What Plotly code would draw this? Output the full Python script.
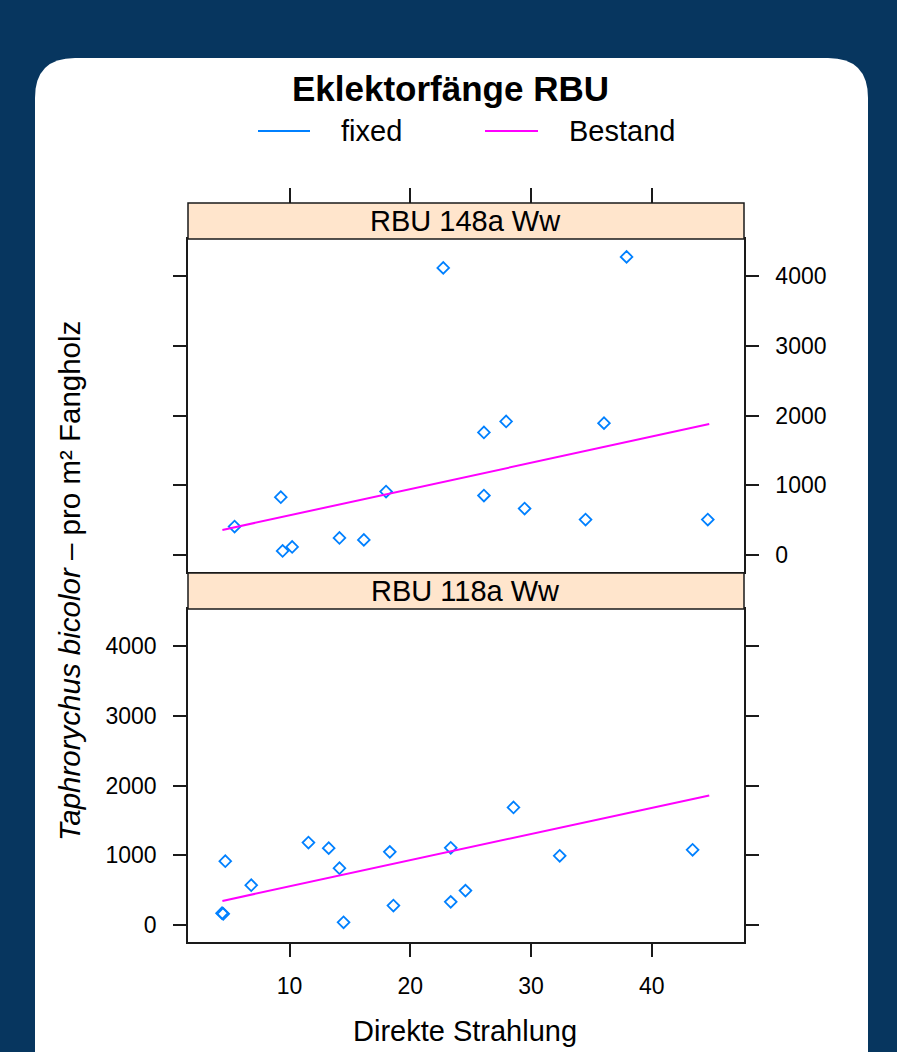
import plotly.graph_objects as go

W, H = 897, 1052

# ---------------- data ----------------
# Panel "RBU 148a Ww" (top)
x_148 = [5.44, 9.27, 9.42, 10.21, 14.13, 16.15, 17.99, 22.73, 26.10, 26.10,
         27.94, 29.47, 34.52, 36.05, 37.92, 44.65]
y_148 = [407, 829, 57, 115, 244, 216, 910, 4120, 1758, 853,
         1916, 666, 508, 1892, 4278, 508]
line_x_148 = [4.43, 44.77]
line_y_148 = [359, 1878]

# Panel "RBU 118a Ww" (bottom)
x_118 = [4.40, 4.50, 4.67, 6.82, 11.56, 13.24, 14.13, 14.47, 18.30, 18.60,
         23.35, 23.35, 24.57, 28.55, 32.38, 43.39]
y_118 = [168, 160, 915, 570, 1183, 1102, 814, 38, 1049, 278,
         1107, 331, 493, 1686, 992, 1078]
line_x_118 = [4.43, 44.77]
line_y_118 = [345, 1859]

x_ticks = [10, 20, 30, 40]
y_ticks = [0, 1000, 2000, 3000, 4000]
panel_labels = ["RBU 148a Ww", "RBU 118a Ww"]
legend_labels = ["fixed", "Bestand"]
title_text = "Eklektorfänge RBU"
x_title = "Direkte Strahlung"
y_title = "<i>Taphrorychus bicolor</i> – pro m² Fangholz"

# ---------------- style ----------------
FONT = "Liberation Sans, Arial, sans-serif"
BLUE = "#0080ff"
MAGENTA = "#ff00ff"
BG = "#07365f"
STRIP = "#ffe5cc"
AX = "#1a1a1a"


def px(x):
    return x / W


def py(y):
    return 1 - y / H


X_RANGE = [1.58, 47.65]
Y_RANGE = [-245, 4535]
XDOM = [px(188), px(744)]

fig = go.Figure()

marker = dict(symbol="diamond-open", size=9, color=BLUE, line=dict(width=1.8, color=BLUE))

fig.add_trace(go.Scatter(x=x_148, y=y_148, mode="markers", marker=marker,
                         xaxis="x2", yaxis="y2", showlegend=False, name=legend_labels[0]))
fig.add_trace(go.Scatter(x=line_x_148, y=line_y_148, mode="lines",
                         line=dict(color=MAGENTA, width=2),
                         xaxis="x2", yaxis="y2", showlegend=False, name=legend_labels[1]))
fig.add_trace(go.Scatter(x=x_118, y=y_118, mode="markers", marker=marker,
                         xaxis="x", yaxis="y", showlegend=False, name=legend_labels[0]))
fig.add_trace(go.Scatter(x=line_x_118, y=line_y_118, mode="lines",
                         line=dict(color=MAGENTA, width=2),
                         xaxis="x", yaxis="y", showlegend=False, name=legend_labels[1]))
# empty trace so the top tick axis is drawn
fig.add_trace(go.Scatter(x=[], y=[], xaxis="x3", yaxis="y2", showlegend=False,
                         hoverinfo="skip"))

tickfont = dict(family=FONT, size=23, color="#000")

common_x = dict(range=X_RANGE, showgrid=False, zeroline=False, tickvals=x_ticks,
                showline=True, linecolor=AX, linewidth=1.5, mirror=True,
                tickcolor=AX, tickwidth=1.5, tickfont=tickfont)
common_y = dict(range=Y_RANGE, showgrid=False, zeroline=False, tickvals=y_ticks,
                showline=True, linecolor=AX, linewidth=1.5, mirror="ticks",
                ticks="outside", ticklen=13, tickcolor=AX, tickwidth=1.5,
                tickfont=tickfont, ticklabelstandoff=12)

fig.update_layout(
    width=W, height=H,
    margin=dict(l=0, r=0, t=0, b=0),
    paper_bgcolor=BG,
    plot_bgcolor="rgba(0,0,0,0)",
    showlegend=False,
    xaxis=dict(domain=XDOM, anchor="y", ticks="outside", ticklen=13,
               ticklabelstandoff=10, **common_x),
    yaxis=dict(domain=[py(942), py(609)], anchor="x", side="left", **common_y),
    xaxis2=dict(domain=XDOM, anchor="y2", matches="x", ticks="",
                showticklabels=False, **{k: v for k, v in common_x.items()
                                         if k not in ("tickfont",)}),
    yaxis2=dict(domain=[py(572), py(239)], anchor="x2", side="right", **common_y),
    xaxis3=dict(domain=XDOM, anchor="free", position=py(203), side="top",
                matches="x", range=X_RANGE, tickvals=x_ticks, ticks="outside",
                ticklen=15, tickcolor=AX, tickwidth=1.5, showticklabels=False,
                showline=False, showgrid=False, zeroline=False),
)

# white rounded card
L, T, R, B, r = 35, 58, 868, 1100, 40
card = (f"M {px(L)},{py(B)} L {px(L)},{py(T + r)} "
        f"Q {px(L)},{py(T)} {px(L + r)},{py(T)} "
        f"L {px(R - r)},{py(T)} Q {px(R)},{py(T)} {px(R)},{py(T + r)} "
        f"L {px(R)},{py(B)} Z")
shapes = [dict(type="path", path=card, xref="paper", yref="paper",
               fillcolor="white", line=dict(width=0), layer="below")]

# strips
for (top, bot) in [(203, 239), (573, 609)]:
    shapes.append(dict(type="rect", xref="paper", yref="paper",
                       x0=px(188), x1=px(744), y0=py(bot), y1=py(top),
                       fillcolor=STRIP, line=dict(color=AX, width=1.5), layer="above"))

# legend key lines
shapes.append(dict(type="line", xref="paper", yref="paper", x0=px(258), x1=px(310),
                   y0=py(131), y1=py(131), line=dict(color=BLUE, width=2)))
shapes.append(dict(type="line", xref="paper", yref="paper", x0=px(485), x1=px(538),
                   y0=py(131), y1=py(131), line=dict(color=MAGENTA, width=2)))
fig.update_layout(shapes=shapes)

ann = []
ann.append(dict(text=f"<b>{title_text}</b>", x=px(450), y=py(89), xref="paper", yref="paper",
                showarrow=False, xanchor="center", yanchor="middle",
                font=dict(family=FONT, size=35, color="#000")))
ann.append(dict(text=legend_labels[0], x=px(339), y=py(131), xref="paper", yref="paper",
                showarrow=False, xanchor="left", yanchor="middle",
                font=dict(family=FONT, size=29, color="#000")))
ann.append(dict(text=legend_labels[1], x=px(567), y=py(131), xref="paper", yref="paper",
                showarrow=False, xanchor="left", yanchor="middle",
                font=dict(family=FONT, size=29, color="#000")))
for lab, yc in zip(panel_labels, [221, 591]):
    ann.append(dict(text=lab, x=px(466), y=py(yc), xref="paper", yref="paper",
                    showarrow=False, xanchor="center", yanchor="middle",
                    font=dict(family=FONT, size=29, color="#000")))
ann.append(dict(text=x_title, x=px(465), y=py(1031), xref="paper", yref="paper",
                showarrow=False, xanchor="center", yanchor="middle",
                font=dict(family=FONT, size=29, color="#000")))
ann.append(dict(text=y_title, x=px(69), y=py(581), xref="paper", yref="paper",
                showarrow=False, xanchor="center", yanchor="middle", textangle=-90,
                font=dict(family=FONT, size=29.5, color="#000")))
fig.update_layout(annotations=ann)

fig.write_html("out.html")
